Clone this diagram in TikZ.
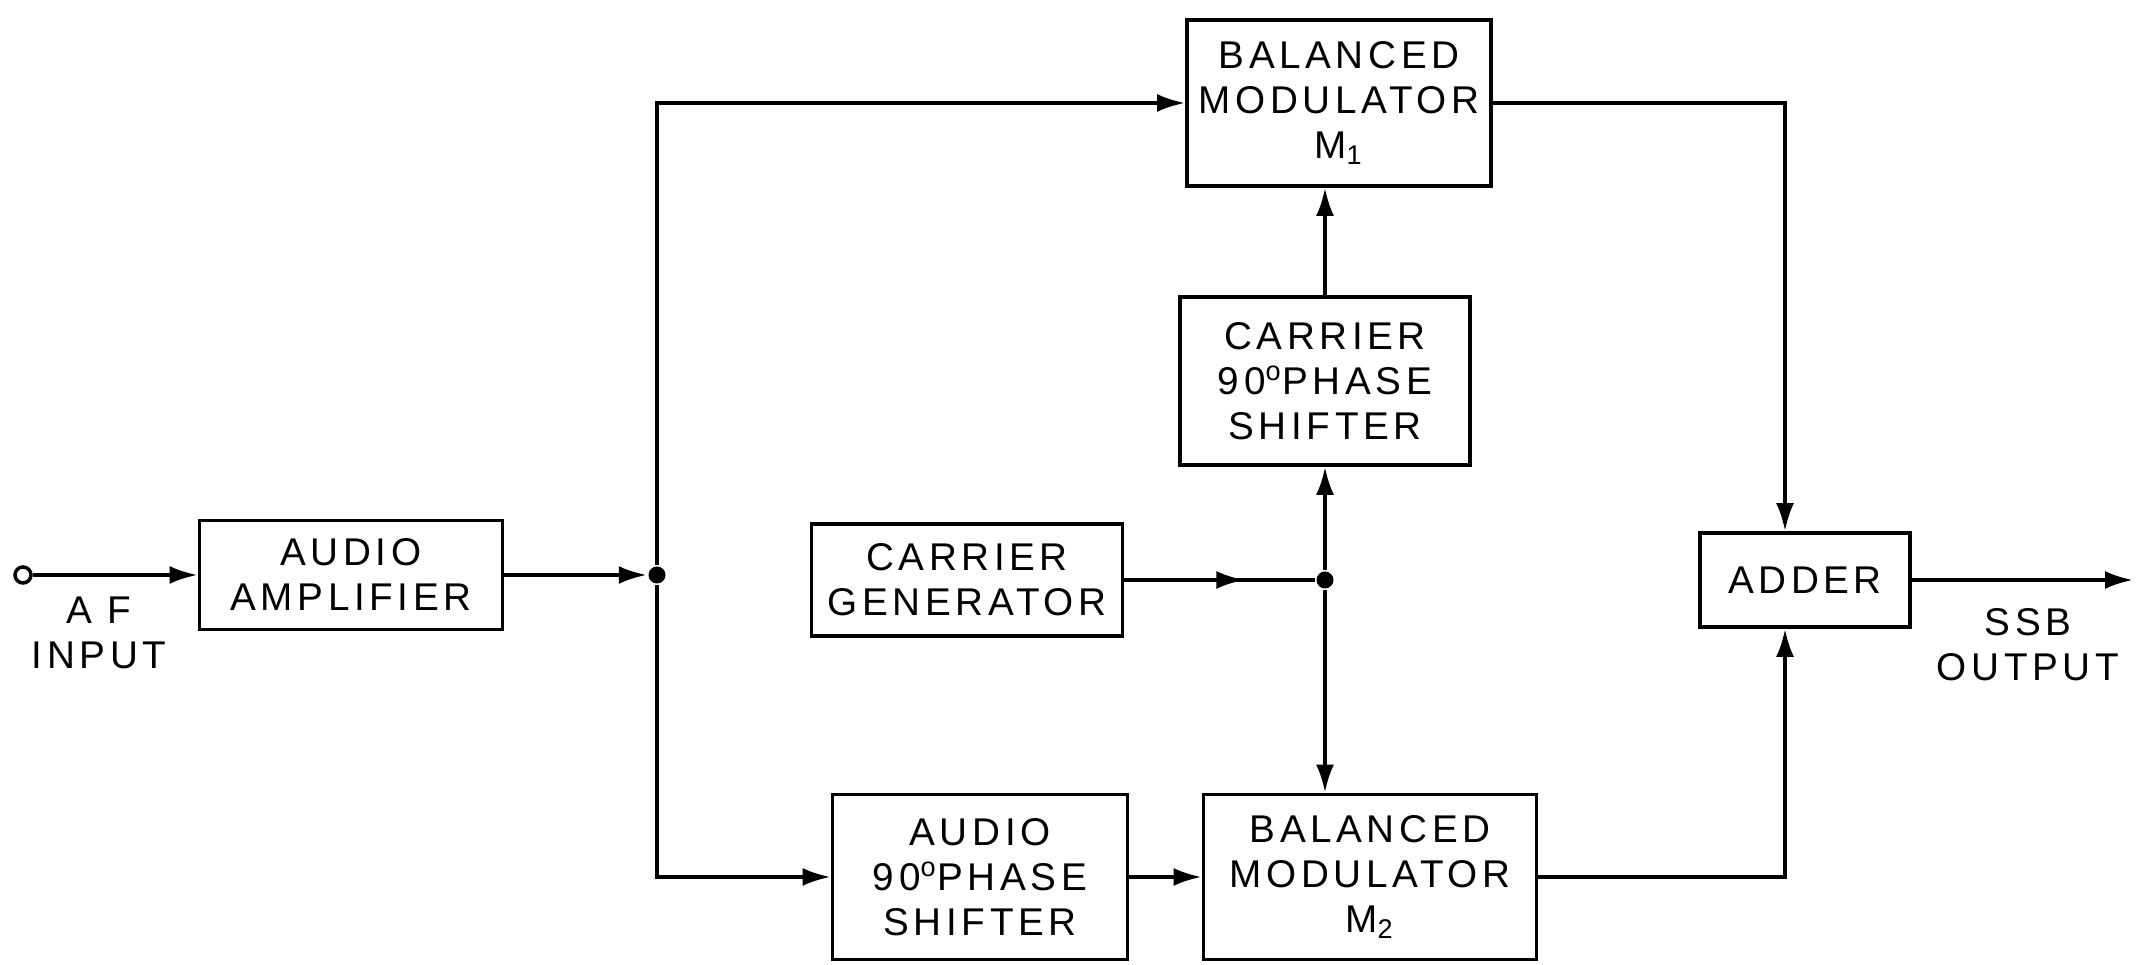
\documentclass[tikz,border=0pt]{standalone}
\usepackage{fontspec}
\newfontfamily\blockfont{Liberation Sans}[LetterSpace=12]
\usetikzlibrary{arrows.meta,decorations.markings}

\begin{document}
\begin{tikzpicture}[
        font=\blockfont\fontsize{11}{12.8}\selectfont,
        >={Latex[length=2.8mm,width=1.8mm]},
        line width=1pt,
        block/.style={draw, line width=1.1pt, align=center, inner sep=2pt},
        junction/.style={circle, fill, inner sep=0pt, minimum size=1.7mm},
        terminal/.style={circle, draw, inner sep=0pt, minimum size=1.6mm},
        link/.style={->},
        midarrow/.style={postaction={decorate}, decoration={markings, mark=at position #1 with {\arrow{>}}}}
    ]
        \useasboundingbox (0,0) rectangle (21.36,9.65);

        \node[terminal] (in) at (0.23,3.90) {};
        \node[block, minimum width=3.03cm, minimum height=1.09cm] (amp) at (3.51,3.90) {AUDIO\\AMPLIFIER};
        \node[junction] (split) at (6.57,3.90) {};

        \node[block, minimum width=3.04cm, minimum height=1.66cm] (mod1) at (13.39,8.62) {BALANCED\\MODULATOR\\M\textsubscript{1}};
        \node[block, minimum width=2.90cm, minimum height=1.68cm] (cshift) at (13.25,5.84) {CARRIER\\90\textsuperscript{o}PHASE\\SHIFTER};
        \node[block, minimum width=3.11cm, minimum height=1.12cm] (gen) at (9.67,3.85) {CARRIER\\GENERATOR};
        \node[junction] (tap) at (13.25,3.85) {};

        \node[block, minimum width=2.95cm, minimum height=1.65cm] (ashift) at (9.80,0.88) {AUDIO\\90\textsuperscript{o}PHASE\\SHIFTER};
        \node[block, minimum width=3.33cm, minimum height=1.65cm] (mod2) at (13.70,0.88) {BALANCED\\MODULATOR\\M\textsubscript{2}};

        \node[block, minimum width=2.10cm, minimum height=0.94cm] (adder) at (18.05,3.85) {ADDER};
        \coordinate (out) at (21.33,3.85);

        \node[align=center] (inlabel) at (0.99,3.32) {A F\\INPUT};
        \node[align=center] (outlabel) at (20.28,3.20) {SSB\\OUTPUT};

        % audio path
        \draw[link] (in) -- (amp);
        \draw[link] (amp) -- (split);
        \draw[link] (split) |- (mod1.west);
        \draw[link] (split) |- (ashift.west);
        \draw[link] (ashift) -- (mod2);

        % carrier path
        \draw[midarrow=0.63] (gen) -- (tap);
        \draw[link] (tap) -- (cshift);
        \draw[link] (cshift) -- (cshift |- mod1.south);
        \draw[link] (tap) -- (tap |- mod2.north);

        % sum
        \draw[link] (mod1) -| ([xshift=-2mm]adder.north);
        \draw[link] (mod2) -| ([xshift=-2mm]adder.south);
        \draw[link] (adder) -- (out);
    \end{tikzpicture}
\end{document}
